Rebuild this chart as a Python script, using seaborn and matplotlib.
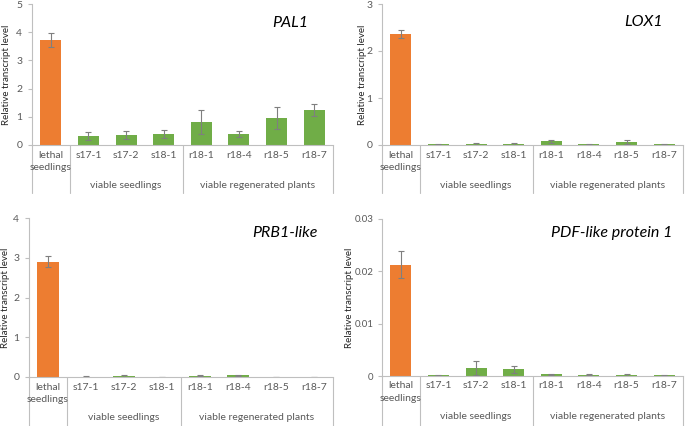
import numpy as np
import pandas as pd
import matplotlib
matplotlib.use("Agg")
import matplotlib.pyplot as plt
import seaborn as sns

sns.set_style("white")
plt.rcParams['font.family'] = ['Lato', 'DejaVu Sans']

samples = ["lethal", "s17-1", "s17-2", "s18-1", "r18-1", "r18-4", "r18-5", "r18-7"]
groups = ["lethal", "viable", "viable", "viable", "viable", "viable", "viable", "viable"]
group_labels = ["viable seedlings", "viable regenerated plants"]

pal1 = [3.72, 0.32, 0.345, 0.38, 0.81, 0.38, 0.95, 1.23]
pal1_err = [0.24, 0.13, 0.14, 0.14, 0.43, 0.10, 0.38, 0.21]
lox1 = [2.36, 0.02, 0.03, 0.03, 0.08, 0.02, 0.06, 0.02]
lox1_err = [0.09, 0.01, 0.02, 0.02, 0.03, 0.01, 0.04, 0.01]
prb1 = [2.90, 0.01, 0.02, 0.005, 0.03, 0.04, 0.003, 0.003]
prb1_err = [0.14, 0.005, 0.02, 0.003, 0.01, 0.02, 0.002, 0.002]
pdf1 = [0.0213, 0.0001, 0.0015, 0.0013, 0.0003, 0.0002, 0.0002, 0.0001]
pdf1_err = [0.0025, 0.00005, 0.0014, 0.0007, 0.0001, 0.0001, 0.0002, 0.00005]

titles = ["PAL1", "LOX1", "PRB1-like", "PDF-like protein 1"]
ymaxes = [5, 3, 4, 0.03]
ysteps = [1, 1, 1, 0.01]

W, H = 685, 426
fig = plt.figure(figsize=(W / 100, H / 100), dpi=100)

# pixel boxes: left, right, top, bottom
boxes = [(32, 333, 4, 145), (382, 683, 4, 145), (29, 333, 218, 377), (382, 683, 219, 376)]
fig_bottoms = [193, 193, 426, 426]
ylab_x = [11, 367, 10, 354]
title_pos = [(290, 23), (643, 22), (285, 233), (612, 233)]

orange = "#ED7D31"
green = "#70AD47"
gray_txt = "#595959"
line_gray = "#BFBFBF"

datasets = [(pal1, pal1_err), (lox1, lox1_err), (prb1, prb1_err), (pdf1, pdf1_err)]

for i, ((vals, errs), title, ymax, ystep) in enumerate(zip(datasets, titles, ymaxes, ysteps)):
    l, r, t, b = boxes[i]
    ax = fig.add_axes([l / W, 1 - b / H, (r - l) / W, (b - t) / H])
    df = pd.DataFrame({"sample": samples, "value": vals, "group": groups})
    sns.barplot(data=df, x="sample", y="value", hue="group",
                palette={"lethal": orange, "viable": green}, dodge=False,
                width=0.56, legend=False, ax=ax, saturation=1, linewidth=0)
    x = np.arange(len(samples))
    ax.errorbar(x, vals, yerr=errs, fmt="none", ecolor="#7F7F7F",
                elinewidth=0.8, capsize=2, capthick=0.8)
    ax.set_xlim(-0.5, len(samples) - 0.5)
    ax.set_ylim(0, ymax)
    ax.set_yticks(np.arange(0, ymax + ystep / 2, ystep))
    if ymax < 1:
        ax.set_yticklabels(["0", "0.01", "0.02", "0.03"])
    else:
        ax.set_yticklabels([str(int(v)) for v in np.arange(0, ymax + 0.5, ystep)])
    ax.set_xticks([])
    ax.set_xlabel("")
    ax.set_ylabel("Relative transcript level", fontsize=7, color="#262626")
    ax.yaxis.set_label_coords((ylab_x[i] - l) / (r - l), 0.5)
    ax.tick_params(axis="y", labelsize=7.5 if ymax >= 1 else 7, labelcolor=gray_txt,
                   length=3, width=0.8, color=line_gray, direction="out", left=True,
                   pad=4 if ymax >= 1 else 3)
    for s in ["top", "right"]:
        ax.spines[s].set_visible(False)
    for s in ["left", "bottom"]:
        ax.spines[s].set_color(line_gray)
        ax.spines[s].set_linewidth(0.8)
    # separator lines of the multi-level axis
    depth = (fig_bottoms[i] - b) / (b - t)
    for xs in [-0.5, 0.5, 3.5, 7.5]:
        ax.plot([xs, xs], [0, -depth], transform=ax.get_xaxis_transform(),
                color=line_gray, lw=0.8, clip_on=False)
    # sample labels
    for j, s in enumerate(samples):
        if j == 0:
            ax.annotate("lethal", xy=(j, 0), xycoords=("data", "axes fraction"),
                        xytext=(0, -7.2), textcoords="offset points",
                        ha="center", va="center", fontsize=7.5, color=gray_txt)
            ax.annotate("seedlings", xy=(j, 0), xycoords=("data", "axes fraction"),
                        xytext=(0, -16.5), textcoords="offset points",
                        ha="center", va="center", fontsize=7.5, color=gray_txt)
        else:
            ax.annotate(s, xy=(j, 0), xycoords=("data", "axes fraction"),
                        xytext=(0, -7.2), textcoords="offset points",
                        ha="center", va="center", fontsize=7.5, color=gray_txt)
    for gx, gl in zip([2, 5.5], group_labels):
        ax.annotate(gl, xy=(gx, 0), xycoords=("data", "axes fraction"),
                    xytext=(0, -29.5), textcoords="offset points",
                    ha="center", va="center", fontsize=7.5, color=gray_txt)
    tx, ty = title_pos[i]
    ax.text((tx - l) / (r - l), 1 - (ty - t) / (b - t), title, transform=ax.transAxes,
            ha="center", va="center", fontsize=11.5, style="italic", color="#000000")

fig.savefig("out.png", dpi=100)
